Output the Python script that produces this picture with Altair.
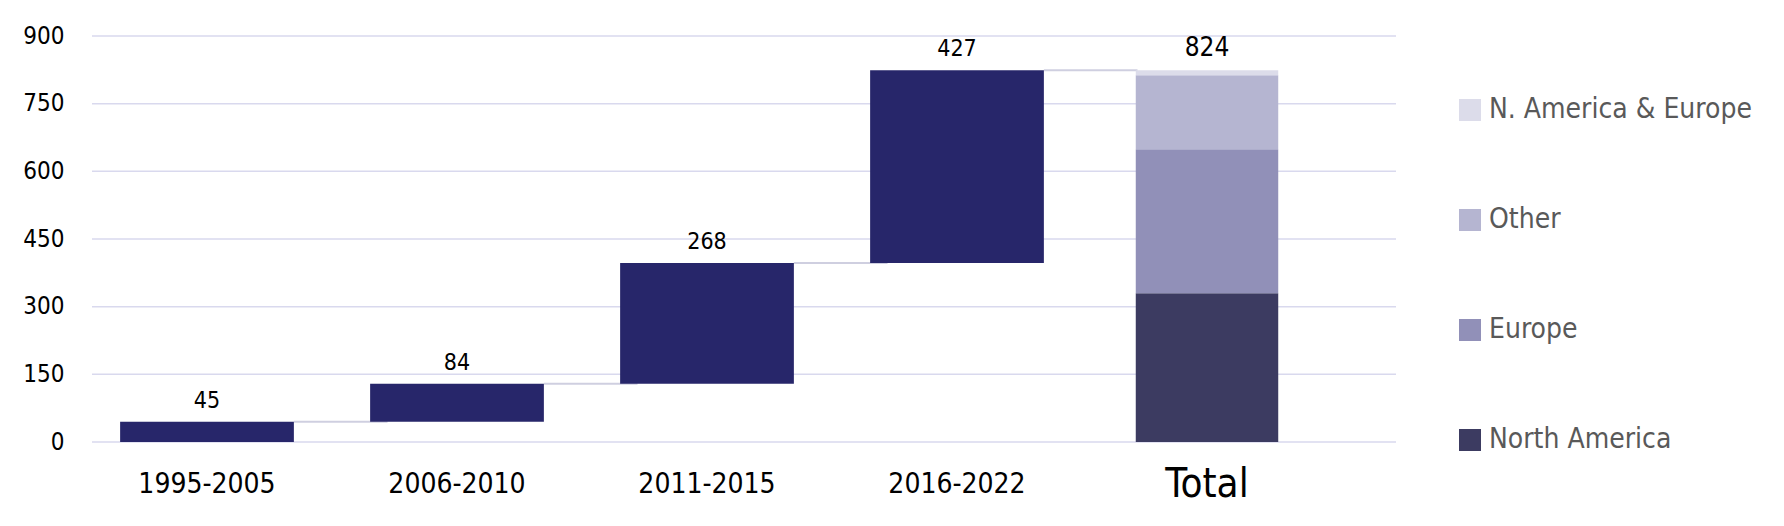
import altair as alt
import pandas as pd

FONT = "Liberation Sans Narrow, DejaVu Sans Condensed, sans-serif"

periods = ["1995-2005", "2006-2010", "2011-2015", "2016-2022"]
increments = [45, 84, 268, 427]
total_label = "Total"
regions = ["North America", "Europe", "Other", "N. America & Europe"]
region_values = [330, 319, 164, 11]
region_colors = ["#3c3b61", "#9190b8", "#b5b5d1", "#dcdcea"]
y_ticks = [0, 150, 300, 450, 600, 750, 900]

categories = periods + [total_label]

ends = list(pd.Series(increments).cumsum())
starts = [e - v for e, v in zip(ends, increments)]
steps = pd.DataFrame({"cat": periods, "start": starts, "end": ends, "value": increments})
conn = pd.DataFrame({"cat": periods, "next": periods[1:] + [total_label], "level": ends})
total_df = pd.DataFrame({"cat": [total_label] * 4, "region": regions,
                         "value": region_values, "order": list(range(4))})
total_text = pd.DataFrame({"cat": [total_label], "value": [sum(region_values)]})
grid_df = pd.DataFrame({"tick": y_ticks})

W, H = 1304, 406

xscale = alt.Scale(domain=categories, range=[-10, 1240],
                   paddingInner=0.305, paddingOuter=0.1525)
yscale = alt.Scale(domain=[0, 900], nice=False)

xaxis = alt.Axis(title=None, labelAngle=0, ticks=False, domain=False, grid=False,
                 labelFontSize={"condition": {"test": "datum.value === 'Total'", "value": 40}, "value": 28},
                 labelPadding=42, labelBaseline="middle", labelColor="#000000", labelFont=FONT)
yaxis = alt.Axis(title=None, values=y_ticks, ticks=False, domain=False, grid=False,
                 labelFontSize=24, labelPadding=28, labelColor="#000000", labelFont=FONT)

grid = alt.Chart(grid_df).mark_rule(color="#d9d9ee", strokeWidth=1.5).encode(
    y=alt.Y("tick:Q", scale=yscale, axis=yaxis),
    x=alt.value(0),
    x2=alt.value(W),
)

connectors = alt.Chart(conn).mark_rule(color="#cfcfe0", strokeWidth=2).encode(
    x=alt.X("cat:N", scale=xscale, sort=categories, bandPosition=1, axis=xaxis),
    x2=alt.X2("next:N", bandPosition=0.1),
    y=alt.Y("level:Q", scale=yscale),
)

bars = alt.Chart(steps).mark_bar(color="#27266a").encode(
    x=alt.X("cat:N", scale=xscale, sort=categories),
    y=alt.Y("start:Q", scale=yscale),
    y2="end:Q",
)

legend_order = regions[::-1]
legend_colors = region_colors[::-1]

total_bar = alt.Chart(total_df).mark_bar(width=alt.RelativeBandSize(0.82)).encode(
    x=alt.X("cat:N", scale=xscale, sort=categories),
    y=alt.Y("value:Q", stack="zero", scale=yscale),
    color=alt.Color("region:N", scale=alt.Scale(domain=legend_order, range=legend_colors),
                    legend=alt.Legend(title=None, orient="none", legendX=1364, legendY=60,
                                      symbolType="square", symbolSize=484, symbolStrokeWidth=0,
                                      labelFontSize=28, labelFont=FONT, labelColor="#595959",
                                      labelOffset=5, rowPadding=82, padding=0, labelLimit=0)),
    order=alt.Order("order:Q"),
)

labels = alt.Chart(steps).mark_text(dy=-21, fontSize=23, font=FONT, color="#000000").encode(
    x=alt.X("cat:N", scale=xscale, sort=categories),
    y=alt.Y("end:Q", scale=yscale),
    text=alt.Text("value:Q"),
)

total_lbl = alt.Chart(total_text).mark_text(dy=-22.5, fontSize=26, font=FONT, color="#000000").encode(
    x=alt.X("cat:N", scale=xscale, sort=categories),
    y=alt.Y("value:Q", scale=yscale),
    text=alt.Text("value:Q"),
)

chart = alt.layer(grid, connectors, bars, total_bar, labels, total_lbl).properties(
    width=W, height=H,
    autosize=alt.AutoSizeParams(type="none"),
    padding={"left": 84, "top": 28, "right": 380, "bottom": 76},
    background="white",
).configure_view(stroke=None)

chart.save("out.html", embed_options={"renderer": "svg", "actions": False})
